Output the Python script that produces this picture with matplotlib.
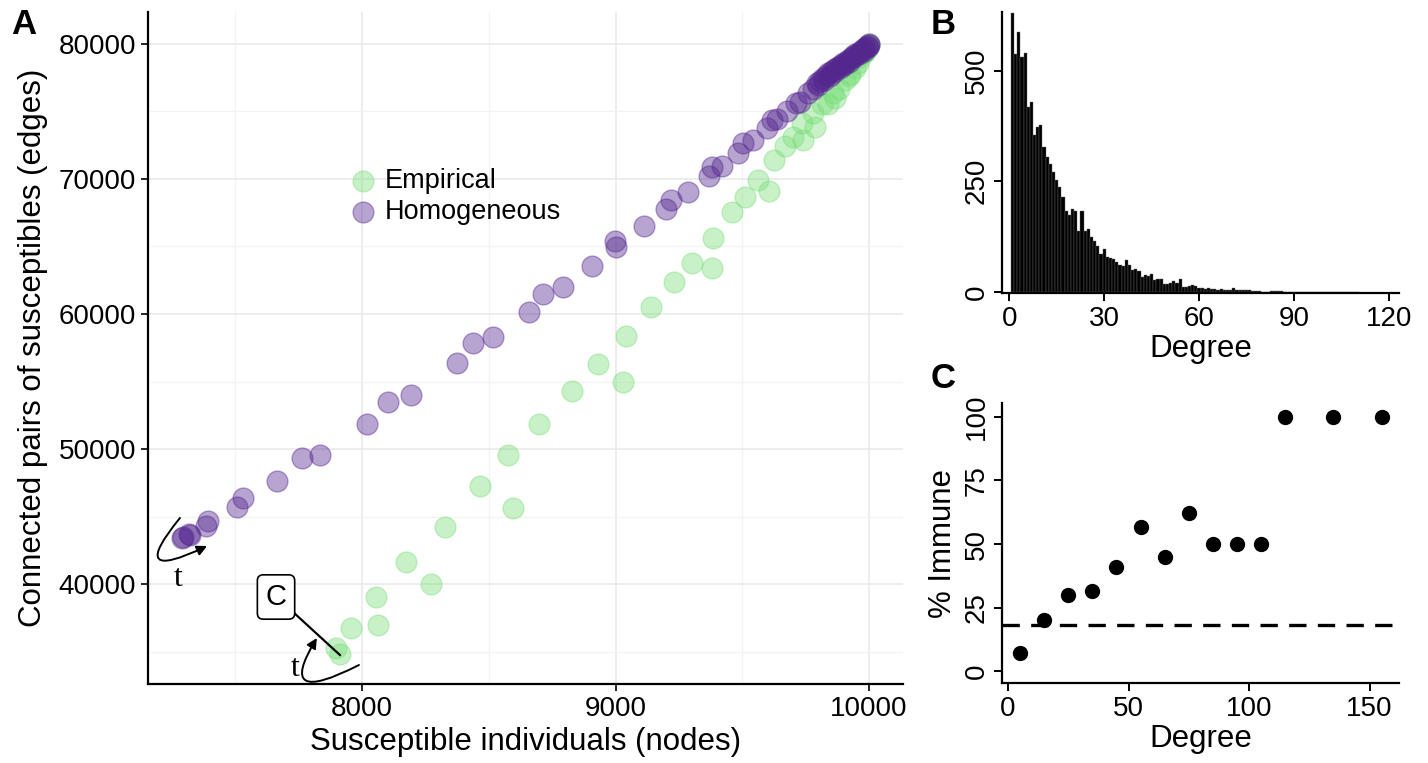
import numpy as np
import matplotlib
matplotlib.use("Agg")
import matplotlib.pyplot as plt
from matplotlib.path import Path
from matplotlib.patches import FancyArrowPatch

plt.rcParams['font.family'] = ['Liberation Sans', 'DejaVu Sans']

# Panel A: susceptible nodes vs. susceptible edges
emp_nodes = [7896, 7912, 7958, 8054, 8063, 8175, 8274, 8329, 8464, 8576,
             8597, 8699, 8827, 8930, 9028, 9041, 9139, 9231, 9301, 9382,
             9383, 9461, 9511, 9563, 9604, 9627, 9669, 9701, 9741, 9735,
             9787, 9780, 9813, 9839, 9859, 9866, 9880, 9905, 9920, 9925,
             9945, 9955, 9964, 9975, 9985, 9991, 9995, 10000]
emp_edges = [35259, 34840, 36741, 39037, 36988, 41605, 40025, 44247, 47284, 49555,
             45607, 51874, 54296, 56296, 54990, 58370, 60496, 62393, 63756, 63430,
             65652, 67578, 68689, 69926, 69133, 71407, 72467, 73133, 72889, 74126,
             73874, 74867, 75556, 75556, 76348, 76000, 76700, 77333, 77600, 77800,
             78200, 78600, 79000, 79300, 79400, 79700, 79800, 80000]

hom_nodes = [7291, 7295, 7317, 7321, 7386, 7394, 7507, 7531, 7665, 7765,
             7836, 8021, 8103, 8195, 8373, 8439, 8518, 8658, 8713, 8794,
             8907, 8999, 9003, 9114, 9199, 9218, 9285, 9370, 9380, 9419,
             9485, 9502, 9544, 9599, 9616, 9638, 9678, 9712, 9728, 9761,
             9778, 9793, 9800, 9805, 9819, 9822, 9830, 9839, 9845, 9850,
             9859, 9863, 9868, 9879, 9884, 9888, 9899, 9903, 9908, 9918,
             9922, 9927, 9938, 9942, 9946, 9958, 9962, 9967, 9978, 9982,
             9986, 9993, 9996, 9998, 10000]
hom_edges = [43407, 43504, 43728, 43630, 44271, 44691, 45679, 46395, 47605, 49308,
             49580, 51851, 53456, 54000, 56348, 57827, 58274, 60126, 61459, 61977,
             63556, 65407, 64940, 66541, 67756, 68444, 69015, 70244, 70911, 70985,
             71948, 72644, 72889, 73778, 74370, 74422, 75059, 75607, 75726, 76348,
             76644, 77089, 76950, 77250, 77459, 77300, 77600, 77830, 77650, 77950,
             78074, 77950, 78200, 78320, 78200, 78450, 78570, 78450, 78700, 78815,
             78700, 78950, 79111, 79000, 79230, 79360, 79250, 79480, 79600, 79500,
             79720, 79852, 79750, 79930, 80000]

# Panel B: degree distribution
deg_bins = list(range(1, 111))
deg_counts = [629, 538, 586, 530, 540, 417, 430, 355, 372, 376,
              327, 305, 289, 272, 254, 237, 214, 182, 173, 188,
              182, 137, 184, 137, 143, 124, 115, 105, 87, 98,
              80, 76, 74, 68, 62, 58, 72, 62, 50, 52,
              48, 33, 38, 36, 40, 28, 30, 29, 18, 18,
              21, 25, 20, 29, 12, 12, 14, 15, 14, 10,
              10, 8, 10, 7, 6, 5, 7, 5, 5, 4,
              9, 5, 4, 5, 4, 5, 3, 2, 2, 1,
              1, 1, 2, 3, 3, 2, 1, 1, 1, 1,
              1, 0, 1, 1, 0, 1, 1, 0, 1, 0,
              1, 0, 0, 1, 0, 1, 0, 0, 1, 0]

# Panel C: percent immune by degree class
imm_degree = [5, 15, 25, 35, 45, 55, 65, 75, 85, 95, 105, 115, 135, 155]
imm_pct = [7, 20, 30, 31.5, 41, 56.5, 45, 62, 50, 50, 50, 100, 100, 100]
baseline = 18

W, H = 1428, 763
fig = plt.figure(figsize=(W / 100, H / 100), dpi=100)


def px_axes(left, top, right, bottom):
    return fig.add_axes([left / W, 1 - bottom / H, (right - left) / W, (bottom - top) / H])


# ---------------- A ----------------
axA = px_axes(148, 12, 903, 684)
green = '#77dd77'
purple = '#54278f'
axA.scatter(emp_nodes, emp_edges, s=225, color=green, alpha=0.4, linewidths=1,
            edgecolors=green, label='Empirical', zorder=3)
axA.scatter(hom_nodes, hom_edges, s=225, color=purple, alpha=0.42, linewidths=1,
            edgecolors=purple, label='Homogeneous', zorder=4)
axA.set_xlim(7156, 10134)
axA.set_ylim(32593, 82370)
axA.set_xticks([8000, 9000, 10000])
axA.set_yticks([40000, 50000, 60000, 70000, 80000])
axA.set_xticks([7500, 8500, 9500], minor=True)
axA.set_yticks([35000, 45000, 55000, 65000, 75000], minor=True)
axA.grid(which='major', color='#e8e8e8', lw=1.1, zorder=0)
axA.grid(which='minor', color='#f3f3f3', lw=0.9, zorder=0)
axA.tick_params(which='minor', length=0)
axA.tick_params(which='major', length=5, width=1.2, labelsize=20, color='black')
for s in ['top', 'right']:
    axA.spines[s].set_visible(False)
for s in ['left', 'bottom']:
    axA.spines[s].set_linewidth(1.6)
axA.set_xlabel('Susceptible individuals (nodes)', fontsize=22.5, labelpad=4)
axA.set_ylabel('Connected pairs of susceptibles (edges)', fontsize=22.5, labelpad=8)
leg = axA.legend(frameon=False, loc='upper left', bbox_to_anchor=(0.262, 0.768),
                 fontsize=19.5, handletextpad=0.15, labelspacing=0.2,
                 borderaxespad=0, borderpad=0, handlelength=1.3)

# annotation: curved arrow and t near homogeneous start
p0, c, p2 = (7282, 44889), (7065, 39926), (7389, 42815)
arr = FancyArrowPatch(path=Path([p0, c, p2], [Path.MOVETO, Path.CURVE3, Path.CURVE3]),
                      arrowstyle='-|>,head_length=6,head_width=3', color='black',
                      lw=1.4, transform=axA.transData, clip_on=False, zorder=6)
axA.add_patch(arr)
axA.text(7274, 40444, 't', family='Liberation Serif', fontsize=23, ha='center', va='center')

# annotation: boxed C
axA.text(7661, 39037, 'C', fontsize=21, ha='center', va='center', zorder=7,
         bbox=dict(boxstyle='round,pad=0.28,rounding_size=0.2', fc='white', ec='black', lw=1.2))
axA.plot([7728, 7913], [37926, 34741], color='black', lw=1.6, zorder=6)
p0, c, p2 = (7988, 34000), (7653, 30778), (7822, 36000)
arr2 = FancyArrowPatch(path=Path([p0, c, p2], [Path.MOVETO, Path.CURVE3, Path.CURVE3]),
                       arrowstyle='-|>,head_length=6,head_width=3', color='black',
                       lw=1.4, transform=axA.transData, clip_on=False, zorder=6)
axA.add_patch(arr2)
axA.text(7736, 33778, 't', family='Liberation Serif', fontsize=23, ha='center', va='center')

# ---------------- B ----------------
axB = px_axes(1002, 12, 1399, 293)
axB.bar(deg_bins, deg_counts, width=1.0, color='black', edgecolor='#666666', linewidth=0.3)
axB.set_xlim(-2.3, 123.2)
axB.set_ylim(-2, 632)
axB.set_xticks([0, 30, 60, 90, 120])
axB.set_yticks([0, 250, 500])
axB.set_xlabel('Degree', fontsize=22.5, labelpad=2)

# ---------------- C ----------------
axC = px_axes(1002, 403, 1399, 683)
axC.scatter(imm_degree, imm_pct, s=100, color='black', zorder=3)
axC.axhline(baseline, color='black', lw=2.4, linestyle=(0, (5.2, 3.4)))
axC.set_xlim(-2.5, 162.2)
axC.set_ylim(-4.6, 105.4)
axC.set_xticks([0, 50, 100, 150])
axC.set_yticks([0, 25, 50, 75, 100])
axC.set_xlabel('Degree', fontsize=22.5, labelpad=2)
axC.set_ylabel('% Immune', fontsize=22.5, labelpad=4)

for ax in (axB, axC):
    for s in ['top', 'right']:
        ax.spines[s].set_visible(False)
    for s in ['left', 'bottom']:
        ax.spines[s].set_linewidth(1.6)
    ax.tick_params(length=6, width=1.4, labelsize=20, pad=3)
    for t in ax.get_yticklabels():
        t.set_rotation(90)
        t.set_va('center')

# panel letters
fig.text(11 / W, 1 - 24 / H, 'A', fontsize=25, fontweight='bold', va='center')
fig.text(931 / W, 1 - 24 / H, 'B', fontsize=25, fontweight='bold', va='center')
fig.text(931 / W, 1 - 378 / H, 'C', fontsize=25, fontweight='bold', va='center')

fig.savefig('out.png', dpi=100)
